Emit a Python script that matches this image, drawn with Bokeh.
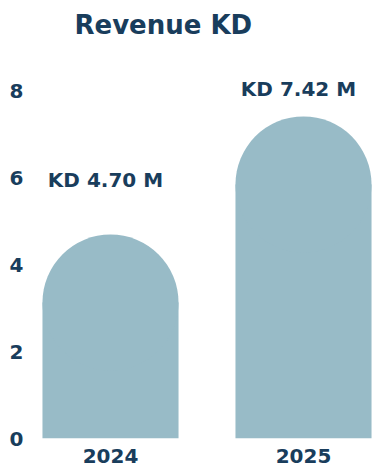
from bokeh.plotting import figure
from bokeh.models import Range1d, ColumnDataSource, FixedTicker
from bokeh.core.properties import value
from bokeh.embed import file_html
from bokeh.resources import INLINE

# ---- data ----
years = ["2024", "2025"]
revenue = [4.70, 7.42]
value_labels = ["KD 4.70 M", "KD 7.42 M"]
y_ticks = [0, 2, 4, 6, 8]

# ---- style ----
NAVY = "#193d5c"
BAR = "#98bbc7"
FONT = "DejaVu Sans"
W, H = 372, 472
LEFT, RIGHT, TOP, BOTTOM = 30, 0, 46, 34
X_START, X_END = -0.4145, 1.3575
Y_END = 9.03
BAR_W = 0.705
label_dy = [-54, -27]   # screen px offset of the value labels above bar apex

xs = list(range(len(years)))
frame_w = W - LEFT - RIGHT
frame_h = H - TOP - BOTTOM
px_per_x = frame_w / (X_END - X_START)
px_per_y = frame_h / Y_END
r_px = BAR_W * px_per_x / 2.0
r_data = r_px / px_per_y

src = ColumnDataSource(dict(
    x=xs,
    top=[v - r_data for v in revenue],
    cy=[v - r_data for v in revenue],
    val=revenue,
    lab=value_labels,
    dy=label_dy,
))

p = figure(width=W, height=H, output_backend="svg", toolbar_location=None,
           x_range=Range1d(X_START, X_END), y_range=Range1d(0, Y_END),
           min_border_left=LEFT, min_border_right=RIGHT,
           min_border_top=TOP, min_border_bottom=BOTTOM,
           title="Revenue KD")

p.vbar(x="x", top="top", bottom=0, width=BAR_W, source=src,
       fill_color=BAR, line_color=None)
p.ellipse(x="x", y="cy", width=2 * r_px, height=2 * r_px,
          width_units="screen", height_units="screen", source=src,
          fill_color=BAR, line_color=None)
p.text(x="x", y="val", text="lab", source=src, x_offset=-5, y_offset="dy",
       text_align="center", text_baseline="middle",
       text_font=value(FONT), text_font_style="bold",
       text_font_size="20px", text_color=NAVY)

# title
p.title.text_font = FONT
p.title.text_font_style = "bold"
p.title.text_font_size = "26px"
p.title.text_color = NAVY
p.title.align = "left"
p.title.offset = 44
p.title.standoff = 14

# axes
for ax in (p.xaxis, p.yaxis):
    ax.axis_line_color = None
    ax.major_tick_line_color = None
    ax.minor_tick_line_color = None
    ax.major_tick_out = 0
    ax.major_tick_in = 0
    ax.major_label_text_font = FONT
    ax.major_label_text_font_style = "bold"
    ax.major_label_text_font_size = "20px"
    ax.major_label_text_color = NAVY

p.xaxis.ticker = FixedTicker(ticks=xs)
p.xaxis.major_label_overrides = {i: y for i, y in enumerate(years)}
p.xaxis.major_label_standoff = 10
p.yaxis.ticker = FixedTicker(ticks=y_ticks)
p.yaxis.major_label_standoff = 7

p.grid.visible = False
p.outline_line_color = None
p.background_fill_color = "white"
p.border_fill_color = "white"

open("out.html", "w").write(file_html(p, INLINE))
